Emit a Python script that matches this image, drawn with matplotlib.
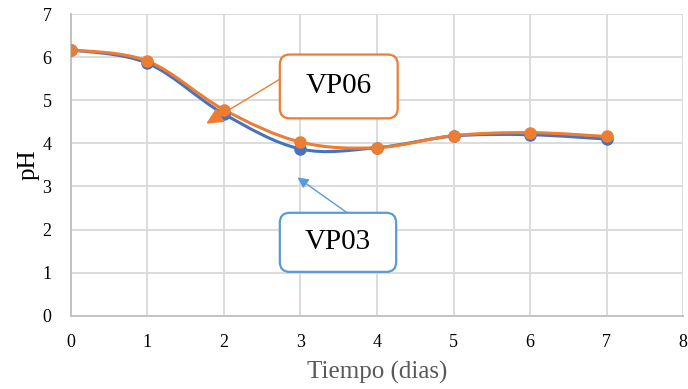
import numpy as np
import matplotlib.pyplot as plt
from matplotlib.path import Path
from matplotlib.patches import PathPatch, FancyBboxPatch

plt.rcParams['font.family'] = ['Liberation Serif', 'DejaVu Serif']

dias = [0, 1, 2, 3, 4, 5, 6, 7]
vp03 = [6.17, 5.86, 4.68, 3.87, 3.90, 4.17, 4.20, 4.10]
vp06 = [6.17, 5.91, 4.78, 4.03, 3.90, 4.18, 4.25, 4.16]

c_vp03 = '#4472C4'
c_vp06 = '#ED7D31'


def smooth_path(x, y):
    # Excel-style smoothed line: cubic bezier segments with Catmull-Rom tangents
    x = np.asarray(x, float)
    y = np.asarray(y, float)
    n = len(x)
    verts = [(x[0], y[0])]
    codes = [Path.MOVETO]
    for i in range(n - 1):
        p0 = i - 1 if i > 0 else i
        p3 = i + 2 if i + 2 < n else i + 1
        c1 = (x[i] + (x[i + 1] - x[p0]) / 6, y[i] + (y[i + 1] - y[p0]) / 6)
        c2 = (x[i + 1] - (x[p3] - x[i]) / 6, y[i + 1] - (y[p3] - y[i]) / 6)
        verts += [c1, c2, (x[i + 1], y[i + 1])]
        codes += [Path.CURVE4] * 3
    return Path(verts, codes)


fig = plt.figure(figsize=(6.88, 3.89), dpi=100)
ax = fig.add_axes([0.103, 0.188, 0.890, 0.776])

for yv, col in [(vp03, c_vp03), (vp06, c_vp06)]:
    ax.add_patch(PathPatch(smooth_path(dias, yv), fill=False, edgecolor=col,
                           lw=2.2, zorder=3, capstyle='round'))
    ax.plot(dias, yv, 'o', color=col, ms=8, zorder=4)

ax.set_xlim(0, 8)
ax.set_ylim(0, 7)
ax.set_xticks(range(0, 9))
ax.set_yticks(range(0, 8))
ax.grid(True, color='#d9d9d9', lw=1.3)
ax.set_axisbelow(True)
for s in ['top', 'right']:
    ax.spines[s].set_visible(False)
for s in ['left', 'bottom']:
    ax.spines[s].set_color('#bfbfbf')
    ax.spines[s].set_linewidth(1.3)
ax.tick_params(length=0, labelsize=13, colors='#000000')
ax.tick_params(axis='x', pad=13)
ax.tick_params(axis='y', pad=14)
ax.set_xlabel('Tiempo (dias)', fontsize=18, color='#595959', labelpad=7)
ax.set_ylabel('pH', fontsize=18, color='#000000', labelpad=2)

# callouts
boxes = [
    ('VP06', c_vp06, (2.73, 4.58), (1.54, 1.48), (2.76, 5.52), (1.77, 4.46), 16),
    ('VP03', '#5B9BD5', (2.73, 1.02), (1.52, 1.37), (3.61, 2.39), (2.96, 3.21), 10),
]
for label, col, (bx, by), (bw, bh), start, tip, head in boxes:
    ax.add_patch(FancyBboxPatch((bx, by), bw, bh,
                                boxstyle='round,pad=0,rounding_size=0.13',
                                mutation_aspect=1.78, facecolor='white',
                                edgecolor=col, lw=1.6, zorder=6))
    ax.text(bx + bw / 2, by + bh / 2, label, fontsize=21, ha='center',
            va='center', zorder=7)
    ax.annotate('', xy=tip, xytext=start,
                arrowprops=dict(arrowstyle='-|>,head_length=%.2f,head_width=%.2f'
                                % (head / 14 * 0.9, head / 14 * 0.45),
                                color=col, lw=1, shrinkA=0, shrinkB=0),
                zorder=5)

fig.savefig('out.png', dpi=100)
